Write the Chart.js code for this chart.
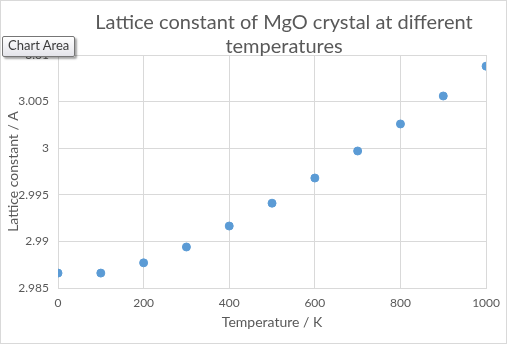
<!DOCTYPE html>
<html>
<head>
<meta charset="utf-8">
<script src="https://cdn.jsdelivr.net/npm/chart.js@4/dist/chart.umd.min.js"></script>
<style>
  html, body { margin: 0; padding: 0; background: #fff; }
  #wrap { position: relative; width: 507px; height: 344px; box-sizing: border-box; border: 1px solid #d9d9d9; }
  canvas { position: absolute; left: 0; top: 0; }
  #tip { position: absolute; left: 1px; top: 35px; height: 19px; padding: 0 5px; line-height: 19px;
         font: 13px "Lato", "Liberation Sans", sans-serif; color: #3b3b3b;
         background: linear-gradient(#ffffff, #e4e4ea); border: 1px solid #767676; border-radius: 2px;
         box-shadow: 2px 2px 2px rgba(0,0,0,0.35); }
</style>
</head>
<body>
<div id="wrap">
  <canvas id="c" width="507" height="344"></canvas>
  <div id="tip">Chart Area</div>
</div>
<script>
const temperatures = [0, 100, 200, 300, 400, 500, 600, 700, 800, 900, 1000];
const latticeConstants = [2.9866, 2.9866, 2.9877, 2.9894, 2.99165, 2.9941, 2.9968, 2.9997, 3.0026, 3.0056, 3.0088];
const titleLines = ["Lattice constant of MgO crystal at different", "temperatures"];
const xAxisTitle = "Temperature / K";
const yAxisTitle = "Lattice constant / A";

const FONT = '"Lato", "Liberation Sans", sans-serif';
const GREY = '#595959';
const GRID = '#d9d9d9';

const titlePlugin = {
  id: 'fixedTitle',
  afterDraw(chart) {
    const ctx = chart.ctx;
    ctx.save();
    ctx.fillStyle = GREY;
    ctx.font = '20px ' + FONT;
    ctx.textAlign = 'center';
    ctx.textBaseline = 'middle';
    titleLines.forEach((t, i) => ctx.fillText(t, 283, 22 + i * 24));
    ctx.restore();
  }
};

new Chart(document.getElementById('c'), {
  type: 'scatter',
  data: {
    datasets: [{
      data: temperatures.map((t, i) => ({ x: t, y: latticeConstants[i] })),
      backgroundColor: '#5b9bd5',
      borderColor: '#5b9bd5',
      pointRadius: 4,
      pointHoverRadius: 4
    }]
  },
  options: {
    responsive: false,
    animation: false,
    layout: { padding: { top: 54, right: 20, left: 0, bottom: 10 } },
    plugins: { legend: { display: false }, tooltip: { enabled: false }, title: { display: false } },
    scales: {
      x: {
        type: 'linear', min: 0, max: 1000,
        ticks: { stepSize: 200, color: GREY, font: { family: FONT, size: 12 }, padding: 8,
                 callback: v => String(v) },
        grid: { color: GRID, drawTicks: false },
        border: { color: GRID },
        title: { display: true, text: xAxisTitle, color: GREY, font: { family: FONT, size: 14 }, padding: { top: 4 } },
        afterFit(s) { s.height = 47; }
      },
      y: {
        min: 2.985, max: 3.01,
        ticks: { stepSize: 0.005, color: GREY, font: { family: FONT, size: 12 }, padding: 9,
                 callback: v => String(Number(v.toFixed(3))) },
        grid: { color: GRID, drawTicks: false },
        border: { display: false },
        title: { display: true, text: yAxisTitle, color: GREY, font: { family: FONT, size: 14 }, padding: { top: 4, bottom: 2 } },
        afterFit(s) { s.width = 57; }
      }
    }
  },
  plugins: [titlePlugin]
});
</script>
</body>
</html>
